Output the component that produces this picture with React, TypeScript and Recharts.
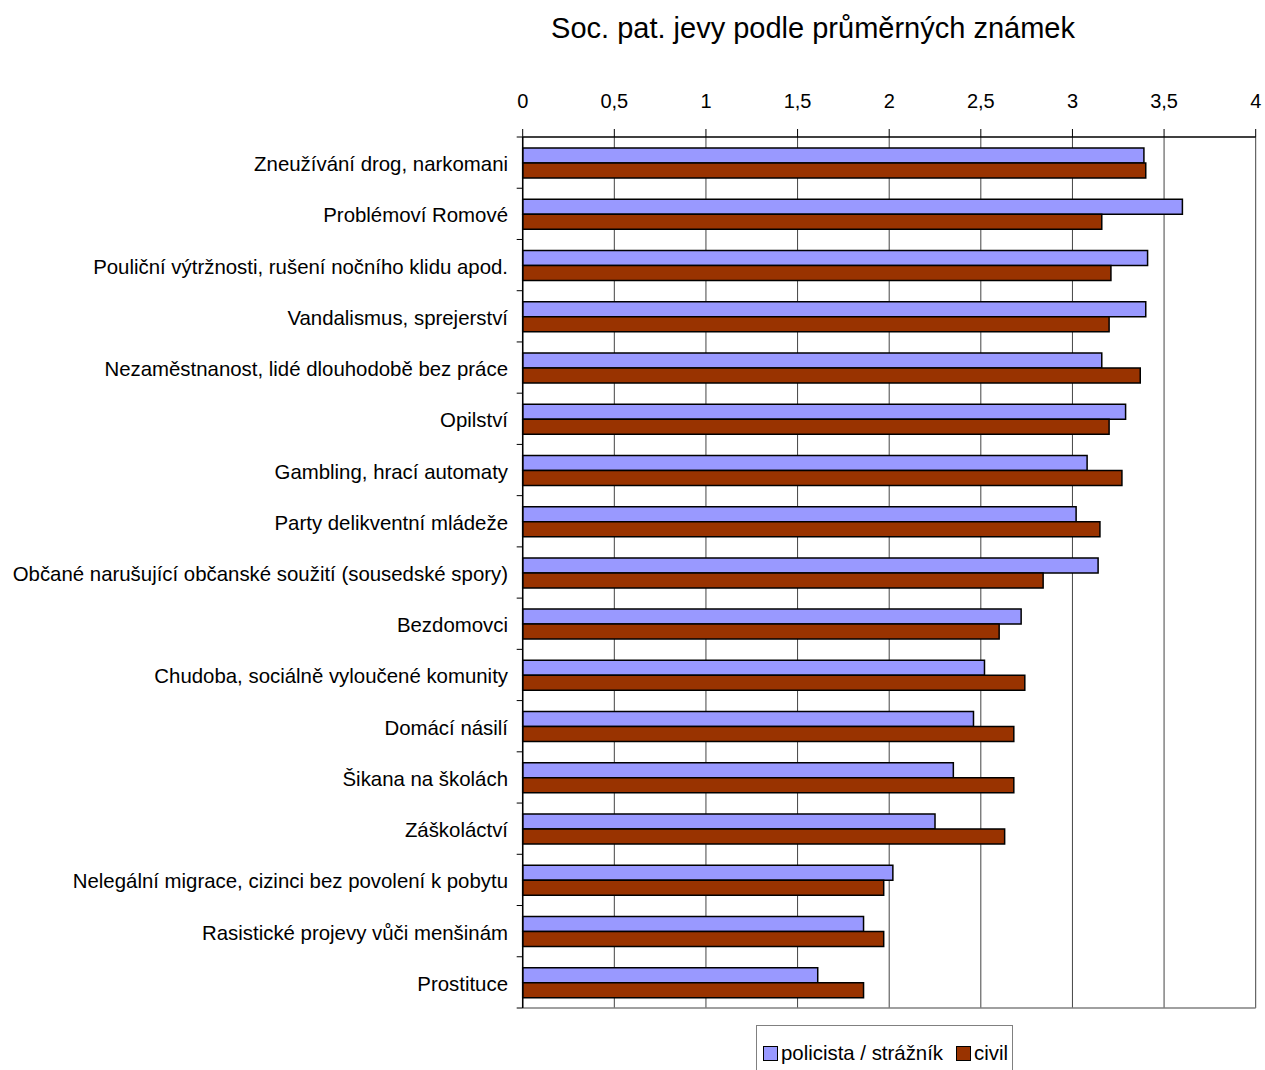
import React from 'react';
import { BarChart, Bar, XAxis, YAxis, CartesianGrid } from 'recharts';

const categories = [
  'Zneužívání drog, narkomani',
  'Problémoví Romové',
  'Pouliční výtržnosti, rušení nočního klidu apod.',
  'Vandalismus, sprejerství',
  'Nezaměstnanost, lidé dlouhodobě bez práce',
  'Opilství',
  'Gambling, hrací automaty',
  'Party delikventní mládeže',
  'Občané narušující občanské soužití (sousedské spory)',
  'Bezdomovci',
  'Chudoba, sociálně vyloučené komunity',
  'Domácí násilí',
  'Šikana na školách',
  'Záškoláctví',
  'Nelegální migrace, cizinci bez povolení k pobytu',
  'Rasistické projevy vůči menšinám',
  'Prostituce',
];

const policista = [3.39, 3.6, 3.41, 3.4, 3.16, 3.29, 3.08, 3.02, 3.14, 2.72, 2.52, 2.46, 2.35, 2.25, 2.02, 1.86, 1.61];
const civil = [3.4, 3.16, 3.21, 3.2, 3.37, 3.2, 3.27, 3.15, 2.84, 2.6, 2.74, 2.68, 2.68, 2.63, 1.97, 1.97, 1.86];

const xTicks = [0, 0.5, 1, 1.5, 2, 2.5, 3, 3.5, 4];

const seriesNames = ['policista / strážník', 'civil'];
const colors = ['#9999FF', '#993300'];

const data = categories.map((name, i) => ({ name, policista: policista[i], civil: civil[i] }));

const W = 1265;
const H = 1070;
const PLOT_LEFT = 522.7;
const PLOT_TOP = 137;
const PLOT_BOTTOM = 1008;
const BAND = (PLOT_BOTTOM - PLOT_TOP) / categories.length;
const FONT = '"Liberation Sans", Arial, sans-serif';

const CategoryTick = (props: any) => {
  const { y, payload, index } = props;
  return (
    <g>
      <text x={PLOT_LEFT - 14.7} y={y} dy={8.5} textAnchor="end" fontSize={20.4} fontFamily={FONT} fill="#000">
        {payload.value}
      </text>
      <line x1={PLOT_LEFT - 6} x2={PLOT_LEFT} y1={y - BAND / 2} y2={y - BAND / 2} stroke="#000" strokeWidth={1} />
      {index === categories.length - 1 && (
        <line x1={PLOT_LEFT - 6} x2={PLOT_LEFT} y1={y + BAND / 2} y2={y + BAND / 2} stroke="#000" strokeWidth={1} />
      )}
    </g>
  );
};

const ValueTick = (props: any) => {
  const { x, payload } = props;
  return (
    <text x={x} y={108} textAnchor="middle" fontSize={20} fontFamily={FONT} fill="#000">
      {String(payload.value).replace('.', ',')}
    </text>
  );
};

const LegendBox = () => (
  <div
    style={{
      position: 'absolute',
      left: 756,
      top: 1025,
      width: 257,
      height: 60,
      border: '1px solid #808080',
      background: '#fff',
      boxSizing: 'border-box',
      display: 'flex',
      alignItems: 'flex-start',
      paddingTop: 16,
      paddingLeft: 6,
      fontFamily: FONT,
      fontSize: 20.4,
      lineHeight: '22px',
      color: '#000',
      whiteSpace: 'nowrap',
    }}
  >
    {seriesNames.map((s, i) => (
      <div key={s} style={{ display: 'flex', alignItems: 'center', marginRight: 13, flexShrink: 0 }}>
        <span
          style={{
            display: 'inline-block',
            width: 15,
            height: 15,
            background: colors[i],
            border: '1.5px solid #000',
            boxSizing: 'border-box',
            marginRight: 3,
          }}
        />
        <span>{s}</span>
      </div>
    ))}
  </div>
);

export default function App() {
  return (
    <div style={{ position: 'absolute', left: 0, top: 0, width: W, height: H, background: '#fff', overflow: 'hidden' }}>
      <div
        style={{
          position: 'absolute',
          left: 0,
          top: 13.5,
          width: 1626,
          textAlign: 'center',
          fontFamily: FONT,
          fontSize: 29,
          lineHeight: '29px',
          color: '#000',
          zIndex: 2,
        }}
      >
        Soc. pat. jevy podle průměrných známek
      </div>
      <BarChart
        width={W}
        height={H}
        data={data}
        layout="vertical"
        margin={{ top: PLOT_TOP - 40, right: W - 1255.7, left: 0, bottom: H - PLOT_BOTTOM }}
        barGap={0}
        barSize={15}
      >
        <CartesianGrid horizontal={false} vertical stroke="#444" strokeWidth={1} />
        <CartesianGrid vertical={false} horizontal horizontalPoints={[PLOT_BOTTOM]} stroke="#808080" strokeWidth={1.5} />
        <XAxis
          type="number"
          orientation="top"
          domain={[0, 4]}
          ticks={xTicks}
          height={40}
          tick={<ValueTick />}
          tickSize={8}
          axisLine={{ stroke: '#000', strokeWidth: 1.5 }}
          tickLine={{ stroke: '#000' }}
          interval={0}
        />
        <YAxis
          type="category"
          dataKey="name"
          width={PLOT_LEFT}
          tick={<CategoryTick />}
          tickLine={false}
          axisLine={{ stroke: '#000', strokeWidth: 1.5 }}
          interval={0}
        />
        <Bar dataKey="policista" name={seriesNames[0]} fill={colors[0]} stroke="#000" strokeWidth={1.5} isAnimationActive={false} />
        <Bar dataKey="civil" name={seriesNames[1]} fill={colors[1]} stroke="#000" strokeWidth={1.5} isAnimationActive={false} />
      </BarChart>
      <LegendBox />
    </div>
  );
}
